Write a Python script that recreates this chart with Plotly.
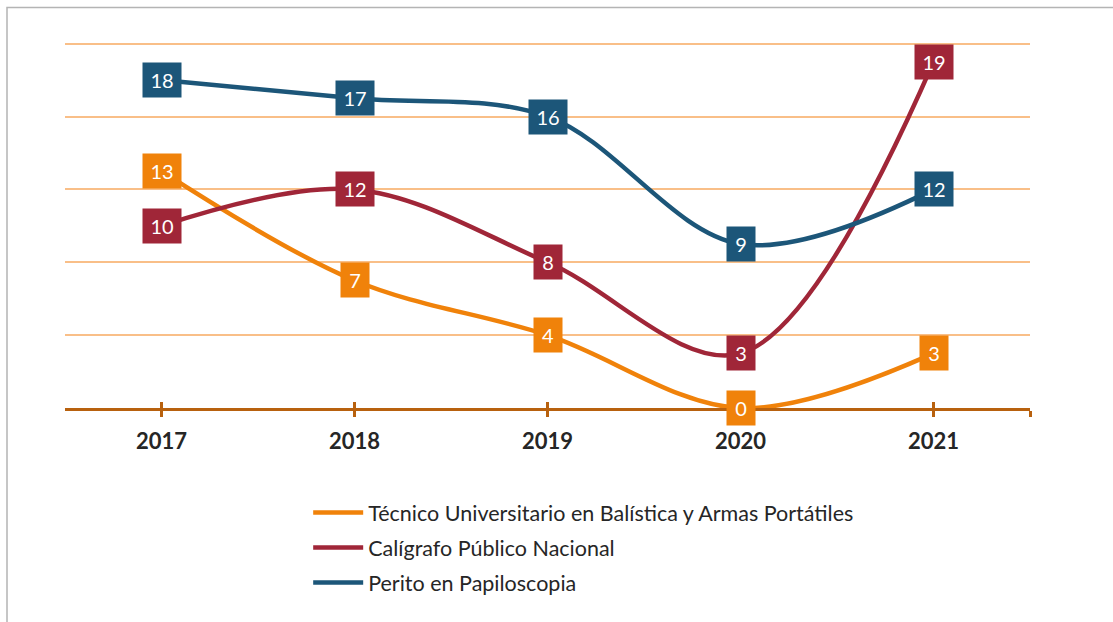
import plotly.graph_objects as go

years = ["2017", "2018", "2019", "2020", "2021"]
tecnico = [13, 7, 4, 0, 3]
caligrafo = [10, 12, 8, 3, 19]
perito = [18, 17, 16, 9, 12]

series = [
    ("Técnico Universitario en Balística y Armas Portátiles", tecnico, "#F0820A"),
    ("Calígrafo Público Nacional", caligrafo, "#A02638"),
    ("Perito en Papiloscopia", perito, "#1C5679"),
]

FONT = "Lato"
AXIS_COLOR = "#B8610E"
GRID_COLOR = "#F9BF88"

xs = list(range(len(years)))

fig = go.Figure()
annotations = []
for i, (name, vals, color) in enumerate(series):
    fig.add_trace(go.Scatter(
        x=xs, y=vals, mode="lines", name=name,
        line=dict(color=color, width=4.5, shape="spline", smoothing=1.0),
        legendgroup=f"g{i}", hoverinfo="skip",
    ))
    for x, v in zip(xs, vals):
        txt = str(v)
        annotations.append(dict(
            x=x, y=v, xref="x", yref="y", text=txt, showarrow=False,
            font=dict(family=FONT, size=20, color="white"),
            bgcolor=color, width=28 if len(txt) == 1 else 38, height=34,
            borderpad=0, align="center", valign="middle",
        ))

# invisible trace on overlaying axis so it is drawn
fig.add_trace(go.Scatter(x=[xs[0]], y=[0], xaxis="x2", mode="markers",
                         marker=dict(opacity=0), showlegend=False, hoverinfo="skip"))

tickvals = xs + [len(years) - 0.5]
ticktext = years + [""]

PLOT_H = 368
fig.update_layout(
    width=1113, height=622,
    margin=dict(l=65, r=83, t=622 - 214 - PLOT_H, b=214),
    paper_bgcolor="white", plot_bgcolor="white",
    font=dict(family=FONT, color="#262626"),
    xaxis=dict(range=[-0.5, len(years) - 0.5], tickvals=tickvals, ticktext=ticktext,
               showgrid=False, zeroline=False, showline=True, linecolor=AXIS_COLOR,
               linewidth=3, ticks="outside", ticklen=6, tickwidth=3, tickcolor=AXIS_COLOR,
               tickfont=dict(family=FONT, size=22, color="#262626", weight="bold"),
               ticklabelstandoff=6, fixedrange=True),
    xaxis2=dict(range=[-0.5, len(years) - 0.5], tickvals=tickvals, overlaying="x",
                anchor="y", side="bottom", showgrid=False, zeroline=False, showline=False,
                ticks="inside", ticklen=6, tickwidth=3, tickcolor=AXIS_COLOR,
                showticklabels=False),
    yaxis=dict(range=[0, 20.2], tickvals=[4, 8, 12, 16, 20], showgrid=True,
               gridcolor=GRID_COLOR, gridwidth=1.5, zeroline=False,
               showticklabels=False, ticks="", showline=False, fixedrange=True),
    legend=dict(x=0.252, y=-(492 - 408) / PLOT_H, xanchor="left", yanchor="top",
                orientation="v",
                font=dict(family=FONT, size=21.5, color="#262626"),
                tracegroupgap=4, itemwidth=50, bgcolor="rgba(0,0,0,0)"),
    annotations=annotations,
    shapes=[dict(type="rect", xref="paper", yref="paper",
                 x0=(7 - 65) / 965, x1=1.2, y0=-0.7, y1=1 + (40 - 7.5) / PLOT_H,
                 line=dict(color="#B4B4B4", width=1.5), layer="below")],
    showlegend=True,
)

fig.write_html("out.html", config={"displayModeBar": False},
               post_script="document.body.style.margin='0';document.body.style.overflow='hidden';")
